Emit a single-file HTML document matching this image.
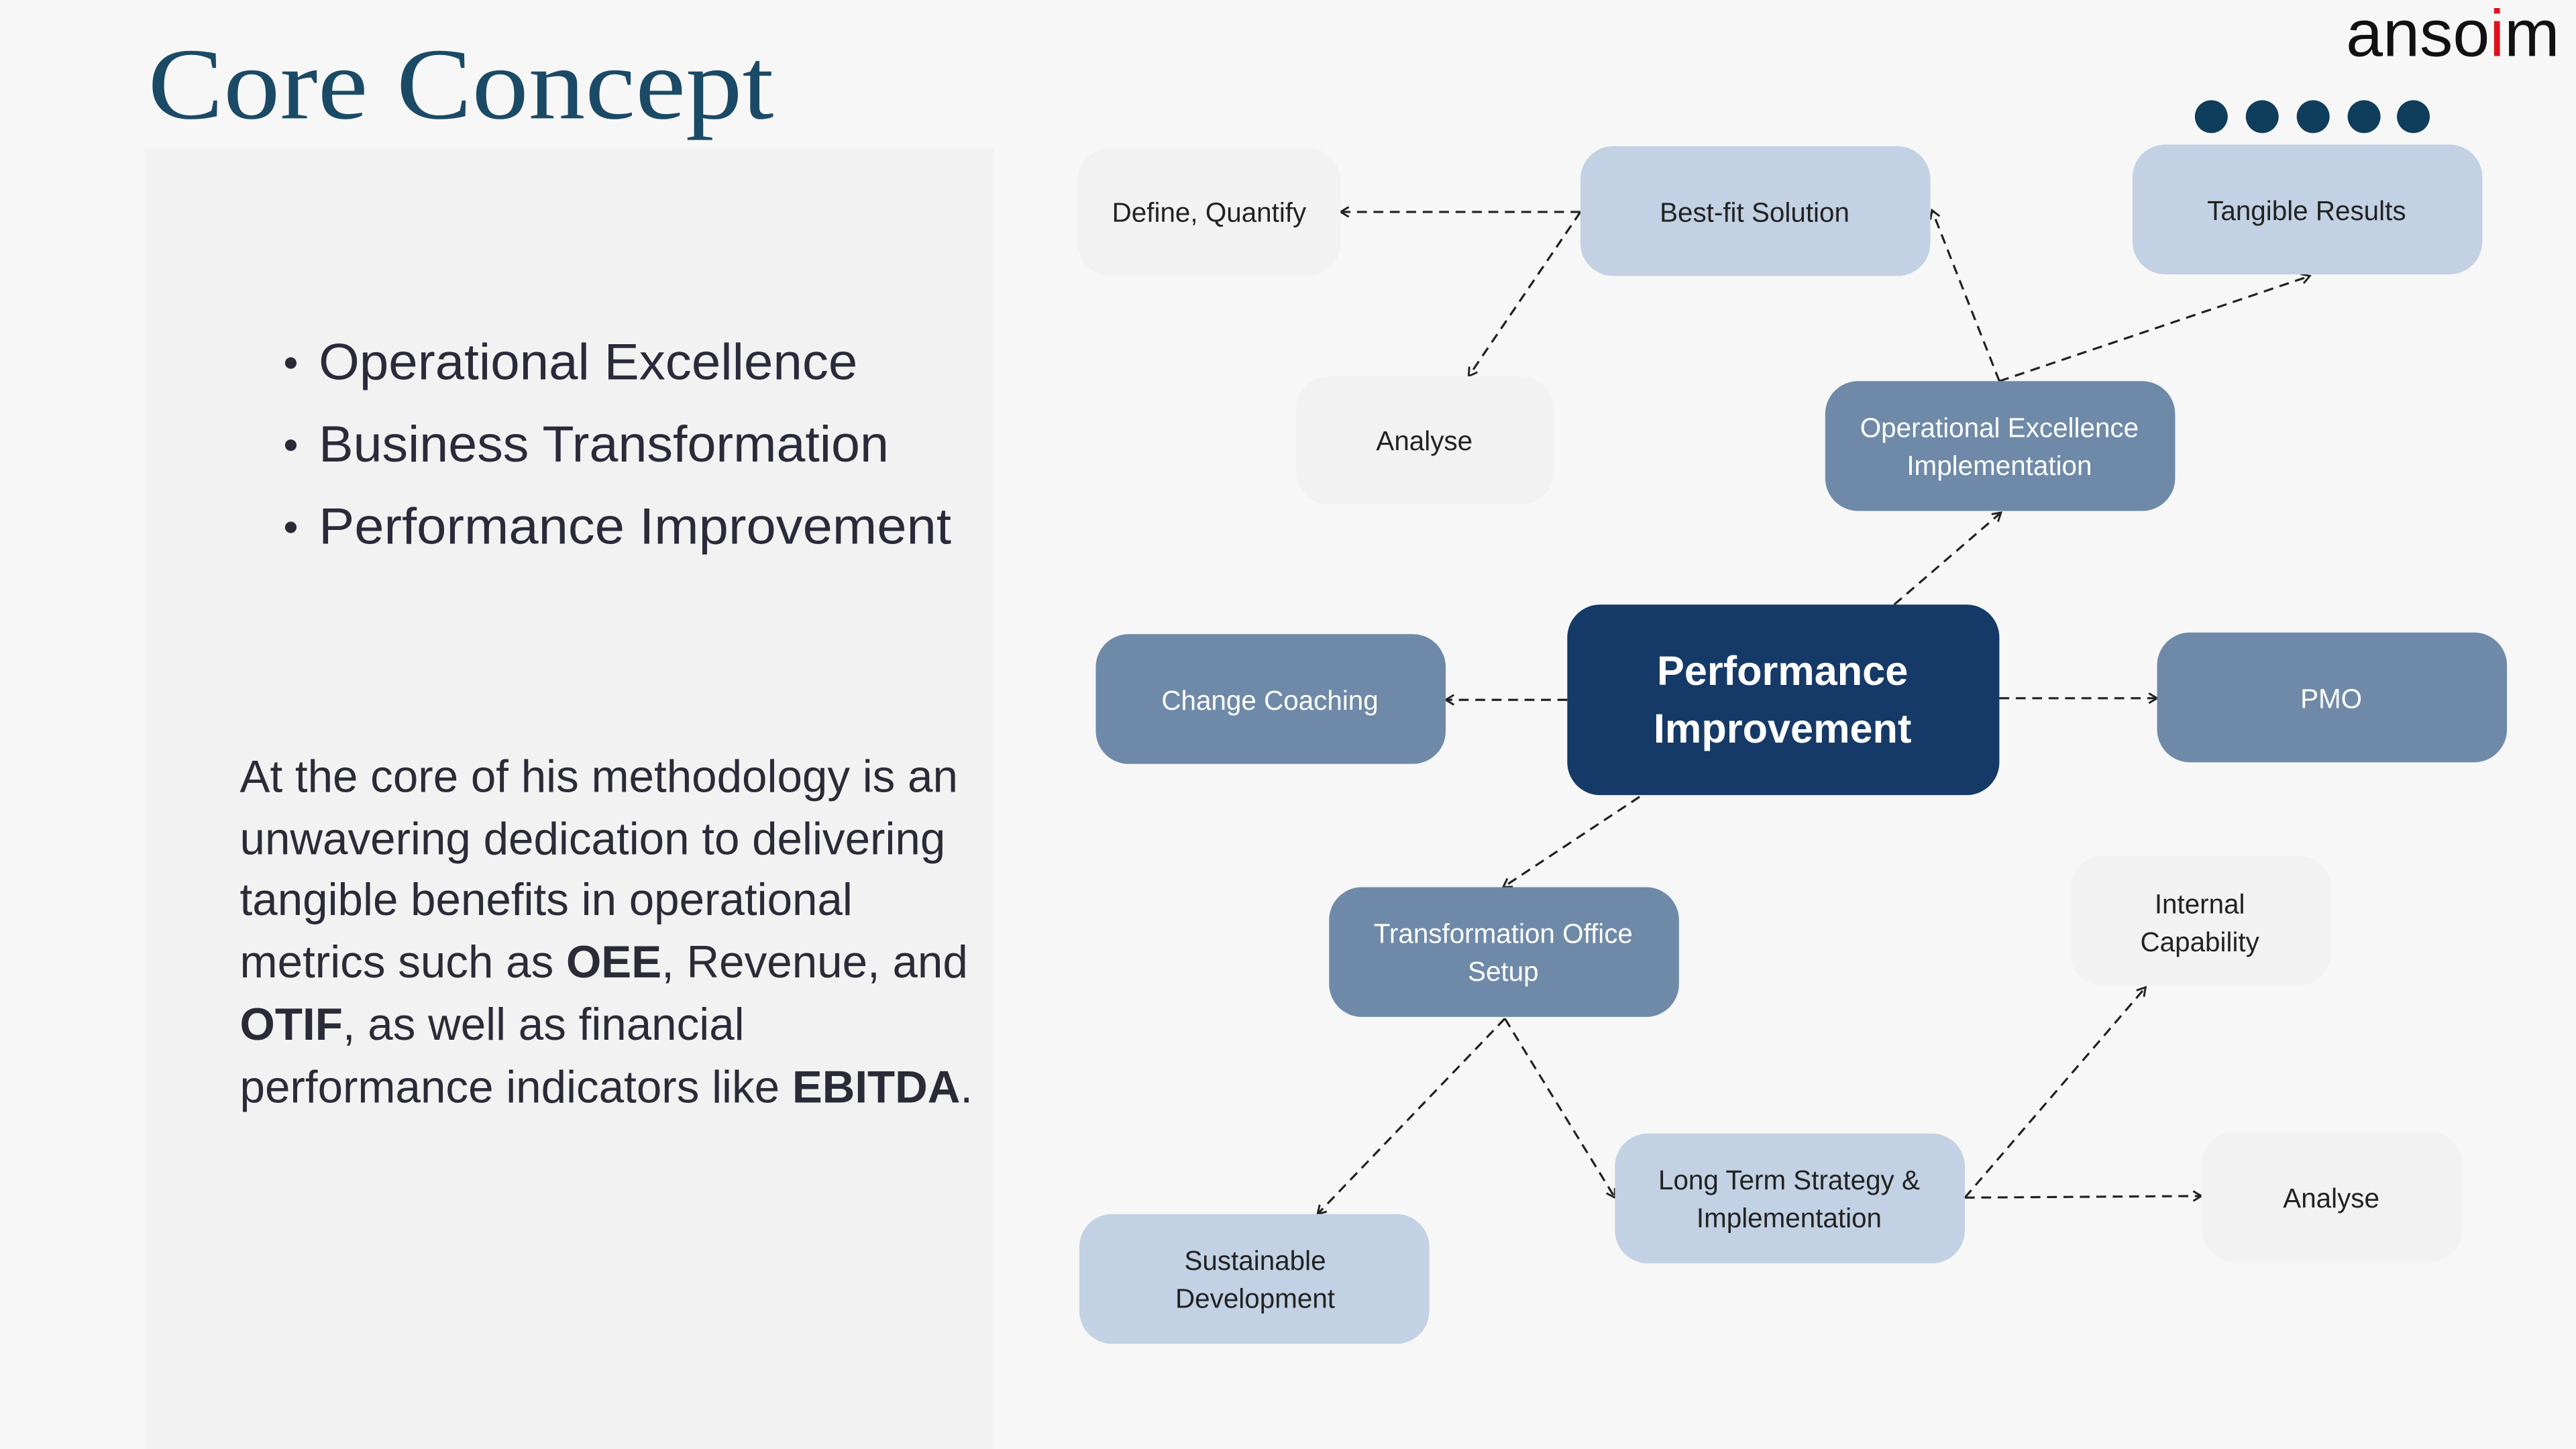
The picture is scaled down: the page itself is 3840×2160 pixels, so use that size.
<!DOCTYPE html>
<html><head><meta charset="utf-8"><style>
html,body{margin:0;padding:0;background:#f7f7f7;}
svg{display:block;}
text{font-family:"Liberation Sans",sans-serif;}
</style></head><body>
<svg width="3840" height="2160" viewBox="0 0 1568 882" xmlns="http://www.w3.org/2000/svg">
<defs>
<marker id="a" markerWidth="8" markerHeight="8" refX="6" refY="4" orient="auto" markerUnits="userSpaceOnUse">
<path d="M1,1 L6,4 L1,7" fill="none" stroke="#222" stroke-width="1.2"/>
</marker>
</defs>
<rect width="1568" height="882" fill="#f7f7f7"/>
<text x="90" y="72" font-size="62" fill="#1b4a66" font-weight="300" style="font-family:'Liberation Serif',serif" textLength="381" lengthAdjust="spacingAndGlyphs">Core Concept</text>
<text x="1428" y="34" font-size="40" fill="#111" textLength="130" lengthAdjust="spacingAndGlyphs">anso<tspan fill="#e0101a">i</tspan>m</text>
<g fill="#0f3d5c">
<circle cx="1346" cy="71" r="10"/><circle cx="1377" cy="71" r="10"/><circle cx="1408" cy="71" r="10"/><circle cx="1439" cy="71" r="10"/><circle cx="1469" cy="71" r="10"/>
</g>
<rect x="88" y="90" width="517" height="792" fill="#f2f2f2"/>
<g font-size="31" fill="#2a2a3a" font-weight="300">
<circle cx="177" cy="221" r="3.5" fill="#2a2a3a"/><text x="194" y="231" textLength="328" lengthAdjust="spacingAndGlyphs">Operational Excellence</text>
<circle cx="177" cy="271" r="3.5" fill="#2a2a3a"/><text x="194" y="281" textLength="347" lengthAdjust="spacingAndGlyphs">Business Transformation</text>
<circle cx="177" cy="321" r="3.5" fill="#2a2a3a"/><text x="194" y="331" textLength="385" lengthAdjust="spacingAndGlyphs">Performance Improvement</text>
</g>
<g font-size="27.5" fill="#2b2b38">
<text x="146" y="482">At the core of his methodology is an</text>
<text x="146" y="520">unwavering dedication to delivering</text>
<text x="146" y="557">tangible benefits in operational</text>
<text x="146" y="595">metrics such as <tspan font-weight="bold">OEE</tspan>, Revenue, and</text>
<text x="146" y="633"><tspan font-weight="bold">OTIF</tspan>, as well as financial</text>
<text x="146" y="671">performance indicators like <tspan font-weight="bold">EBITDA</tspan>.</text>
</g>
<g fill="none" stroke="#222" stroke-width="1.3" stroke-dasharray="6,4" marker-end="url(#a)">
<line x1="962" y1="129" x2="816" y2="129"/>
<line x1="962" y1="129" x2="894" y2="229"/>
<line x1="1217" y1="232" x2="1176" y2="128"/>
<line x1="1217" y1="232" x2="1406" y2="168"/>
<line x1="1153" y1="368" x2="1218" y2="312"/>
<line x1="954" y1="426" x2="880" y2="426"/>
<line x1="1217" y1="425" x2="1313" y2="425"/>
<line x1="998" y1="485" x2="915" y2="540"/>
<line x1="916" y1="620" x2="802" y2="739"/>
<line x1="916" y1="620" x2="983" y2="729"/>
<line x1="1196" y1="729" x2="1340" y2="728"/>
<line x1="1196" y1="729" x2="1306" y2="601"/>
</g>
<g font-size="16.5" text-anchor="middle">
<rect x="656" y="90" width="160" height="78" rx="20" fill="#f2f2f2"/><text x="736" y="135" fill="#222">Define, Quantify</text>
<rect x="962" y="89" width="213" height="79" rx="20" fill="#c2d1e3"/><text x="1068" y="135" fill="#222">Best-fit Solution</text>
<rect x="1298" y="88" width="213" height="79" rx="20" fill="#c2d1e3"/><text x="1404" y="134" fill="#222">Tangible Results</text>
<rect x="789" y="229" width="157" height="78" rx="20" fill="#f2f2f2"/><text x="867" y="274" fill="#222">Analyse</text>
<rect x="1111" y="232" width="213" height="79" rx="20" fill="#6f8aa9"/><text x="1217" y="266" fill="#fff">Operational Excellence</text><text x="1217" y="289" fill="#fff">Implementation</text>
<rect x="954" y="368" width="263" height="116" rx="20" fill="#163a68"/><text x="1085" y="417" fill="#fff" font-size="25" font-weight="bold">Performance</text><text x="1085" y="452" fill="#fff" font-size="25" font-weight="bold">Improvement</text>
<rect x="667" y="386" width="213" height="79" rx="20" fill="#6f8aa9"/><text x="773" y="432" fill="#fff">Change Coaching</text>
<rect x="1313" y="385" width="213" height="79" rx="20" fill="#6f8aa9"/><text x="1419" y="431" fill="#fff">PMO</text>
<rect x="809" y="540" width="213" height="79" rx="20" fill="#6f8aa9"/><text x="915" y="574" fill="#fff">Transformation Office</text><text x="915" y="597" fill="#fff">Setup</text>
<rect x="1260" y="521" width="159" height="79" rx="20" fill="#f2f2f2"/><text x="1339" y="556" fill="#222">Internal</text><text x="1339" y="579" fill="#222">Capability</text>
<rect x="983" y="690" width="213" height="79" rx="20" fill="#c2d1e3"/><text x="1089" y="724" fill="#222">Long Term Strategy &amp;</text><text x="1089" y="747" fill="#222">Implementation</text>
<rect x="1340" y="689" width="159" height="79" rx="20" fill="#f2f2f2"/><text x="1419" y="735" fill="#222">Analyse</text>
<rect x="657" y="739" width="213" height="79" rx="20" fill="#c2d1e3"/><text x="764" y="773" fill="#222">Sustainable</text><text x="764" y="796" fill="#222">Development</text>
</g>
</svg>
</body></html>
